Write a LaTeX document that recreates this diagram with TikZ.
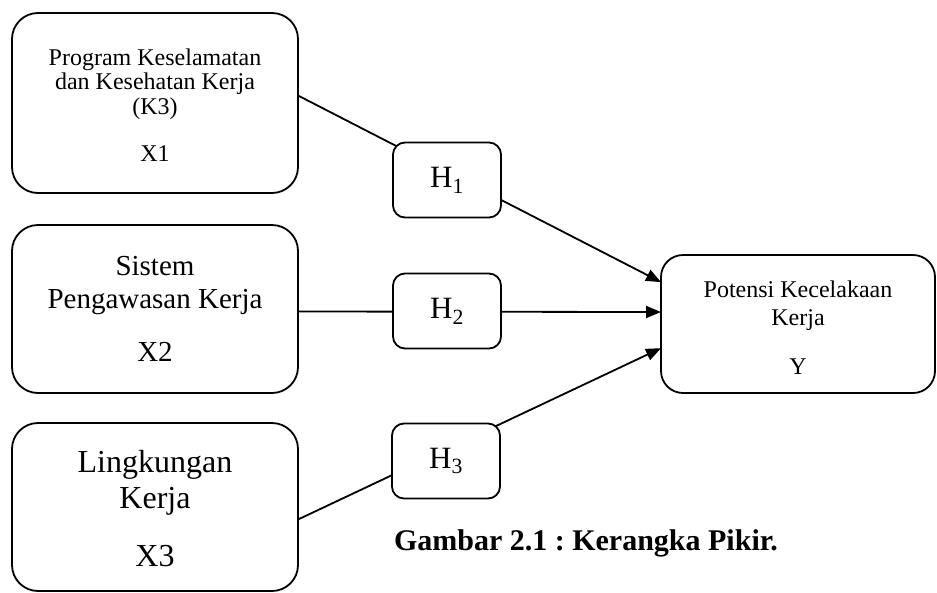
\documentclass[tikz,border=0pt]{standalone}
\usepackage{fontspec}
\setmainfont{Liberation Serif}
\usetikzlibrary{arrows.meta}

\begin{document}
\begin{tikzpicture}[x=1pt, y=-1pt, align=center, line width=1.8pt,
  every node/.style = {shape=rectangle, draw, outer sep=0pt, inner sep=0pt},
  varbox/.style = {rounded corners=26pt, minimum width=286pt},
  hypbox/.style = {rounded corners=12pt, minimum width=108pt,
    minimum height=75pt, fill=white, font=\fontsize{31}{36}\selectfont},
  link/.style = {-{Triangle[length=15pt, width=12pt]}},
  ]
  \useasboundingbox (0,0) rectangle (937,592);
  % variabel
  \node[varbox, minimum height=180pt, font=\fontsize{24}{24.5}\selectfont] (x1) at (155,103)
    {\rule{0pt}{21pt}Program Keselamatan\\dan Kesehatan Kerja\\(K3)\\[23pt]X1};
  \node[varbox, minimum height=168pt, font=\fontsize{29}{33}\selectfont] (x2) at (155,309)
    {Sistem\\Pengawasan Kerja\\[20pt]X2};
  \node[varbox, minimum height=168pt, font=\fontsize{32}{36}\selectfont] (x3) at (155,507)
    {\rule{0pt}{26pt}Lingkungan\\Kerja\\[22pt]X3};
  \node[rounded corners=22pt, minimum width=274pt, minimum height=138pt,
    font=\fontsize{24}{28}\selectfont] (y) at (798,324)
    {\rule{0pt}{23pt}Potensi Kecelakaan\\Kerja\\[21pt]Y};
  % jalur pengaruh
  \draw[link] (x1.3) -- (y.163);
  \draw[link] (x2.-1) -- (y.175);
  \draw[link] (x3.-5) -- (y.190);
  % hipotesis
  \node[hypbox] (h1) at (447,180) {H\textsubscript{1}};
  \node[hypbox] (h2) at (447,311) {H\textsubscript{2}};
  \node[hypbox] (h3) at (446,461) {H\textsubscript{3}};
  \node[draw=none, anchor=base west, font=\fontsize{30}{36}\selectfont\bfseries] (judul)
    at (394,550) {\frenchspacing Gambar 2.1 : Kerangka Pikir.};
\end{tikzpicture}
\end{document}
